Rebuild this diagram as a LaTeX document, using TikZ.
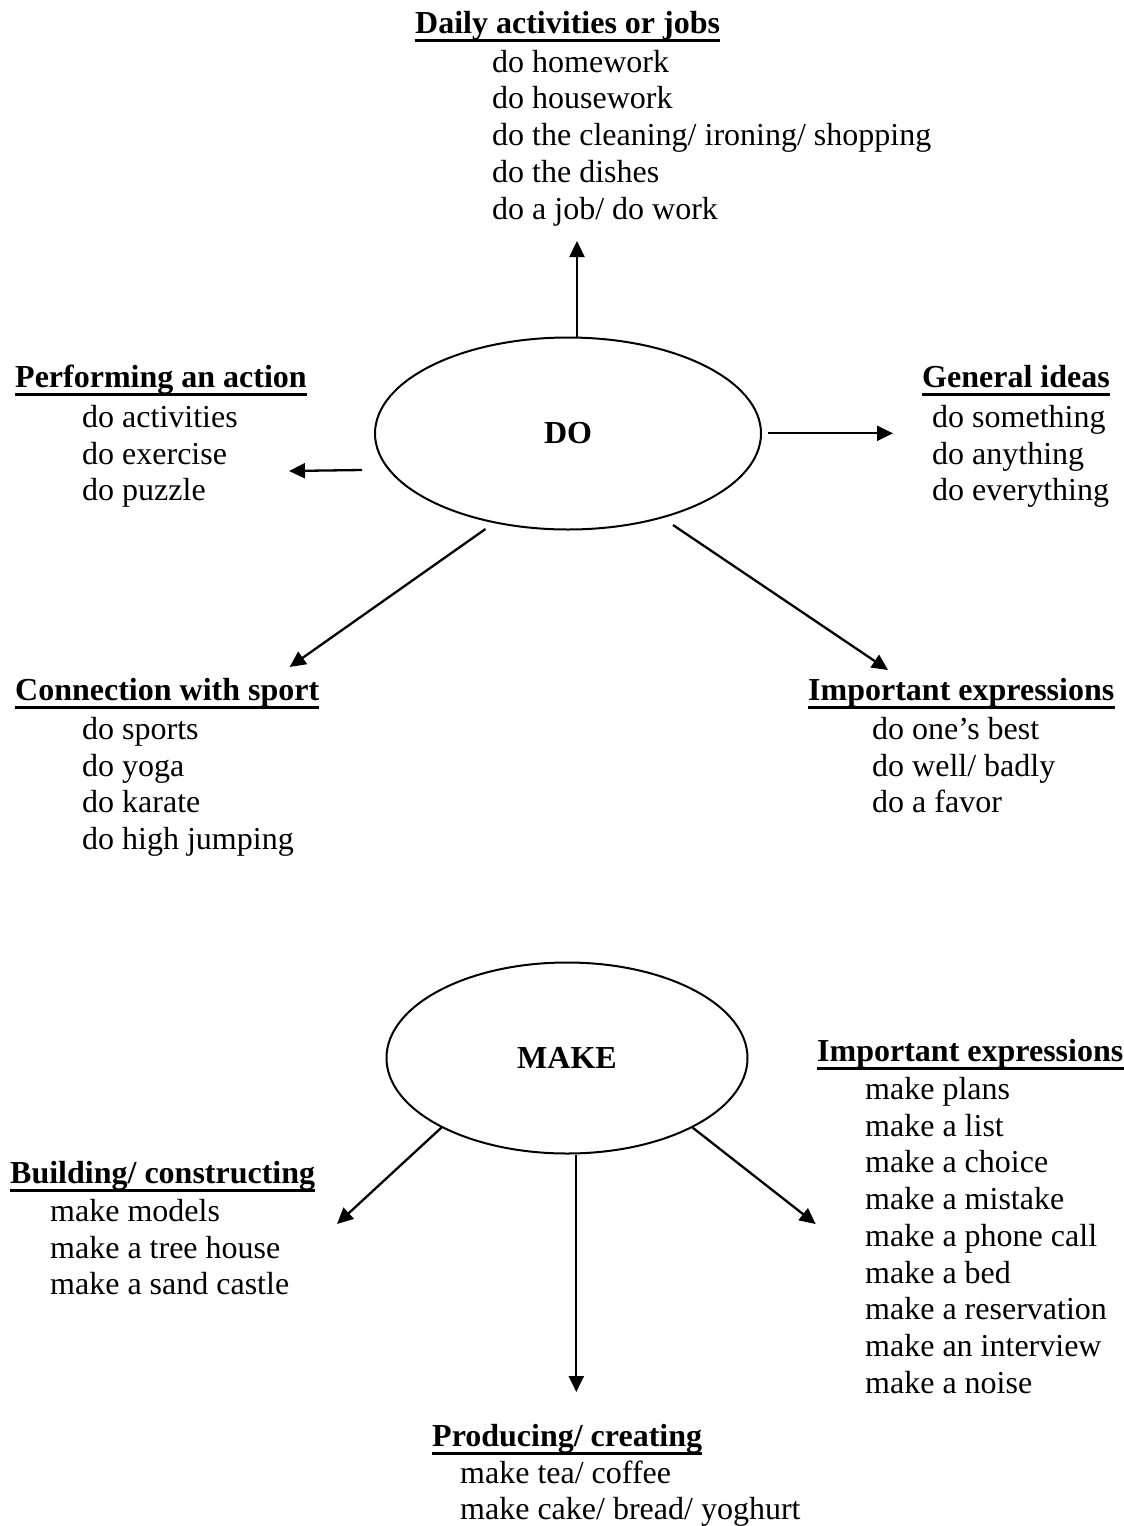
\documentclass[tikz,border=0pt]{standalone}
\usepackage{fontspec}
\setmainfont{Liberation Serif}
\usetikzlibrary{arrows.meta,shapes.geometric}
\tikzset{
  it/.style={anchor=base west, inner sep=0pt, font=\fontsize{32}{37}\selectfont},
  hd/.style={anchor=base west, inner sep=0pt, font=\fontsize{32}{37}\selectfont\bfseries},
  ul/.style={line width=2.8pt},
  bub/.style={draw, ellipse, line width=2pt, inner sep=0pt, font=\fontsize{32}{37}\selectfont\bfseries},
  arr/.style={line width=2.3pt, -{Triangle[length=16pt,width=15pt]}}
}
\newcommand\hdr[4]{%
  \node[hd] (#1) at (#2,#3) {#4};
  \draw[ul] ([yshift=-7.5pt]#1.base west) -- ([yshift=-7.5pt]#1.base east);
}
\begin{document}
\begin{tikzpicture}[x=1pt,y=-1pt]
\useasboundingbox (0,0) rectangle (1124,1526);

% ---------- DO ----------
\node[bub, minimum width=386pt, minimum height=192pt] (do) at (568,433.5) {DO};

\hdr{hdaily}{415}{33}{Daily activities or jobs}
\foreach \t [count=\i from 0] in {do homework, do housework, do the cleaning/ ironing/ shopping, do the dishes, do a job/ do work}
  \node[it] (daily\i) at (492,{72+36.9*\i}) {\t};

\hdr{hperf}{15}{387}{Performing an action}
\foreach \t [count=\i from 0] in {do activities, do exercise, do puzzle}
  \node[it] (perf\i) at (82,{427.5+36.6*\i}) {\t};

\hdr{hgen}{922}{387}{General ideas}
\foreach \t [count=\i from 0] in {do something, do anything, do everything}
  \node[it] (gen\i) at (932,{427.5+36.6*\i}) {\t};

\hdr{hsport}{15}{700}{Connection with sport}
\foreach \t [count=\i from 0] in {do sports, do yoga, do karate, do high jumping}
  \node[it] (sport\i) at (82,{739.5+36.7*\i}) {\t};

\hdr{himpdo}{808}{700}{Important expressions}
\foreach \t [count=\i from 0] in {do one’s best, do well/ badly, do a favor}
  \node[it] (impdo\i) at (872,{739.5+36.6*\i}) {\t};

\coordinate (upend) at (577,241);
\coordinate (lst) at (362,470);
\coordinate (lend) at (289,471);
\coordinate (rst) at (768,433.3);
\coordinate (rend) at (893,433.3);
\coordinate (dlst) at (485.5,529);
\coordinate (dlend) at (289.6,667);
\coordinate (drst) at (673,525);
\coordinate (drend) at (888,670);

\draw[arr] (upend |- do.north) -- (upend);
\draw[arr] (lst) -- (lend);
\draw[arr] (rst) -- (rend);
\draw[arr] (dlst) -- (dlend);
\draw[arr] (drst) -- (drend);

% ---------- MAKE ----------
\node[bub, minimum width=361pt, minimum height=191pt] (make) at (567,1058) {MAKE};

\hdr{himpmk}{817}{1061}{Important expressions}
\foreach \t [count=\i from 0] in {make plans, make a list, make a choice, make a mistake, make a phone call, make a bed, make a reservation, make an interview, make a noise}
  \node[it] (impmk\i) at (865,{1099.5+36.7*\i}) {\t};

\hdr{hbuild}{10}{1183}{Building/ constructing}
\foreach \t [count=\i from 0] in {make models, make a tree house, make a sand castle}
  \node[it] (build\i) at (50,{1221.5+36.6*\i}) {\t};

\hdr{hprod}{432}{1446}{Producing/ creating}
\foreach \t [count=\i from 0] in {make tea/ coffee, make cake/ bread/ yoghurt}
  \node[it] (prod\i) at (460,{1483+36.7*\i}) {\t};

\coordinate (mlend) at (337,1224);
\coordinate (mmend) at (576.3,1392);
\coordinate (mrend) at (815.7,1224);

\draw[arr] (make.209.3) -- (mlend);
\draw[arr] (mmend |- make.south) -- (mmend);
\draw[arr] (make.331.6) -- (mrend);
\end{tikzpicture}
\end{document}
